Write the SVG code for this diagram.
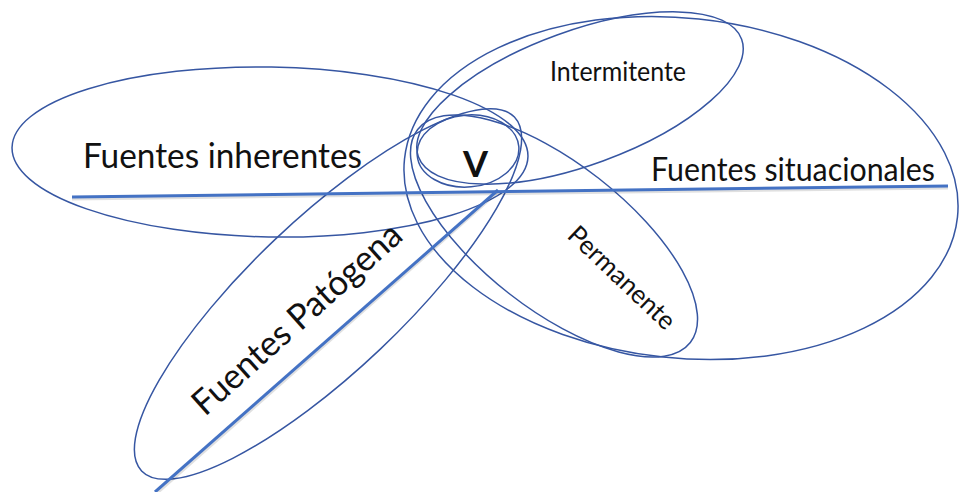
<svg xmlns="http://www.w3.org/2000/svg" width="959" height="492" viewBox="0 0 959 492">
<defs>
<style>
.ring{fill:none;stroke:#3656a2;stroke-width:1.5}
.axis{fill:none;stroke:#4472c4;stroke-width:3;stroke-linecap:butt}
.shadow{fill:none;stroke:#000;stroke-opacity:0.12;stroke-width:3}
.lbl{font-family:Lato,"Open Sans","Liberation Sans",sans-serif;fill:#111}
</style>
</defs>
<rect width="959" height="492" fill="#fff"/>
<g id="situacionales">
<ellipse class="ring" cx="681" cy="188" rx="278" ry="170" transform="rotate(6 681 188)"/>
<text class="lbl" x="651" y="181" font-size="33" textLength="284" lengthAdjust="spacingAndGlyphs">Fuentes situacionales</text>
</g>
<g id="intermitente">
<ellipse class="ring" cx="580" cy="98" rx="172" ry="67" transform="rotate(-20 580 98)"/>
<text class="lbl" x="550" y="81" font-size="26" textLength="136" lengthAdjust="spacingAndGlyphs">Intermitente</text>
</g>
<g id="permanente">
<ellipse class="ring" cx="554" cy="236" rx="173" ry="73" transform="rotate(38 554 236)"/>
<text class="lbl" font-size="26" textLength="137" lengthAdjust="spacingAndGlyphs" transform="translate(566 237) rotate(43.5)">Permanente</text>
</g>
<g id="inherentes">
<ellipse class="ring" cx="270" cy="152" rx="258" ry="85" transform="rotate(1 270 152)"/>
<text class="lbl" x="83" y="168" font-size="35" textLength="279" lengthAdjust="spacingAndGlyphs">Fuentes inherentes</text>
</g>
<g id="patogena">
<ellipse class="ring" cx="328" cy="294" rx="257" ry="76" transform="rotate(-43.5 328 294)"/>
<text class="lbl" font-size="35" textLength="268" lengthAdjust="spacingAndGlyphs" transform="translate(205 417) rotate(-41.8)">Fuentes Patógena</text>
</g>
<g id="v">
<ellipse class="ring" cx="468" cy="151" rx="51" ry="36" transform="rotate(-5 468 151)"/>
<text class="lbl" x="475.5" y="177" font-size="36" font-weight="bold" text-anchor="middle">V</text>
</g>
<g id="connectors">
<line class="shadow" x1="72" y1="199" x2="948" y2="188"/>
<line class="shadow" x1="156" y1="494" x2="498" y2="192"/>
<line class="axis" x1="72" y1="197" x2="948" y2="186"/>
<line class="axis" x1="155" y1="492" x2="498" y2="190"/>
</g>
</svg>
